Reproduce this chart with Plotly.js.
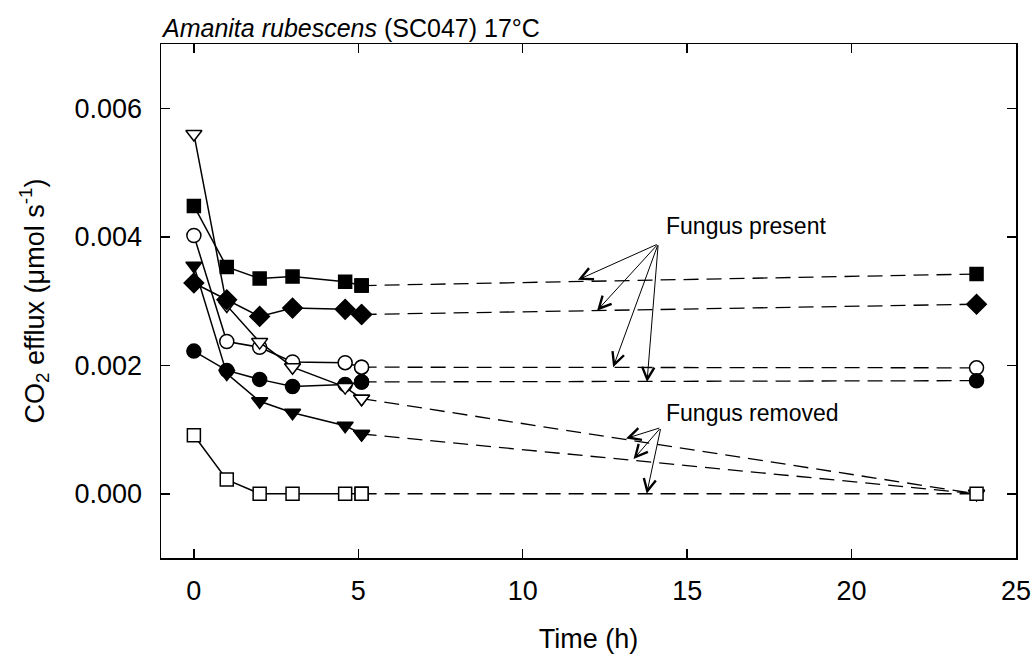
<!DOCTYPE html>
<html>
<head>
<meta charset="utf-8">
<script src="https://cdn.plot.ly/plotly-3.0.1.min.js"></script>
<style>html,body{margin:0;padding:0;background:#fff;}#chart{width:1032px;height:656px;}</style>
</head>
<body>
<div id="chart"></div>
<script>
// Time points (h)
var times = [0, 1, 2, 3, 4.6, 5.1, 23.8];
// CO2 efflux (umol s-1) per replicate
var openCircle   = [0.00402, 0.00237, 0.00228, 0.00205, 0.00204, 0.00197, 0.00196];
var filledTri    = [0.00355, 0.00187, 0.00144, 0.00126, 0.00106, 0.00093, 0.0];
var filledCircle = [0.00222, 0.00192, 0.00178, 0.00167, 0.00170, 0.00174, 0.00176];
var openTri      = [0.00560, 0.00293, 0.00236, 0.00197, 0.00166, 0.00148, 0.0];
var filledDiam   = [0.00328, 0.00302, 0.00276, 0.00289, 0.00287, 0.00279, 0.00295];
var filledSquare = [0.00448, 0.00353, 0.00335, 0.00338, 0.00330, 0.00324, 0.00342];
var openSquare   = [0.00091, 0.00022, 0.0, 0.0, 0.0, 0.0, 0.0];

var xTickVals = [0, 5, 10, 15, 20, 25];
var yTickVals = [0.000, 0.002, 0.004, 0.006];

var FONT = "Liberation Sans, Arial, sans-serif";

var seriesDefs = [
  {y: openCircle,   symbol: 'circle',        fill: '#ffffff', size: 14},
  {y: filledTri,    symbol: 'triangle-down', fill: '#000000', size: 14},
  {y: filledCircle, symbol: 'circle',        fill: '#000000', size: 14},
  {y: openTri,      symbol: 'triangle-down', fill: '#ffffff', size: 14},
  {y: filledDiam,   symbol: 'diamond',       fill: '#000000', size: 15},
  {y: filledSquare, symbol: 'square',        fill: '#000000', size: 13},
  {y: openSquare,   symbol: 'square',        fill: '#ffffff', size: 13}
];

var traces = [];
seriesDefs.forEach(function(s){
  var mk = {symbol: s.symbol, size: s.size, color: s.fill, line: {color: '#000', width: 1.5}};
  // dashed segment from last measured point in session to 24 h
  traces.push({
    x: times.slice(5), y: s.y.slice(5), type: 'scatter', mode: 'lines+markers',
    line: {color: '#000', width: 1.3, dash: '15px,8px'}, marker: mk,
    showlegend: false, hoverinfo: 'skip', cliponaxis: false
  });
  traces.push({
    x: times.slice(0, 6), y: s.y.slice(0, 6), type: 'scatter', mode: 'lines+markers',
    line: {color: '#000', width: 1.5}, marker: mk,
    showlegend: false, hoverinfo: 'skip', cliponaxis: false
  });
});

function arrow(x, y, ax, ay){
  return {x: x, y: y, ax: ax, ay: ay, xref: 'x', yref: 'y', axref: 'x', ayref: 'y',
    text: '', showarrow: true, arrowhead: 5, arrowsize: 2.4, arrowwidth: 1, arrowcolor: '#000', standoff: 0, startstandoff: 0};
}

var annotations = [
  {x: 16.78, y: 0.00416, xref: 'x', yref: 'y', text: 'Fungus present', showarrow: false,
   font: {family: FONT, size: 23, color: '#000'}, xanchor: 'center', yanchor: 'middle'},
  {x: 16.98, y: 0.00126, xref: 'x', yref: 'y', text: 'Fungus removed', showarrow: false,
   font: {family: FONT, size: 23, color: '#000'}, xanchor: 'center', yanchor: 'middle'},
  arrow(11.68, 0.00333, 14.12, 0.00389),
  arrow(12.26, 0.00285, 14.12, 0.00389),
  arrow(12.75, 0.00197, 14.12, 0.00389),
  arrow(13.78, 0.00174, 14.12, 0.00389),
  arrow(13.14, 0.00086, 14.2, 0.00103),
  arrow(13.37, 0.00054, 14.2, 0.00103),
  arrow(13.77, 0.0000, 14.2, 0.00103)
];

var layout = {
  width: 1032, height: 656,
  margin: {l: 161, r: 16, t: 44, b: 98},
  paper_bgcolor: '#fff', plot_bgcolor: '#fff',
  font: {family: FONT, color: '#000'},
  title: {
    text: '<i>Amanita rubescens</i> (SC047) 17°C',
    font: {family: FONT, size: 25, color: '#000'},
    xref: 'container', yref: 'container', x: 163/1032, xanchor: 'left',
    y: 1 - 28/656, yanchor: 'middle'
  },
  xaxis: {
    range: [-1, 25], tickvals: xTickVals, ticktext: xTickVals.map(String),
    ticks: 'inside', ticklen: 9, tickwidth: 1.5, tickcolor: '#000',
    showline: true, linecolor: '#000', linewidth: 1.5, mirror: 'ticks',
    showgrid: false, zeroline: false,
    tickfont: {family: FONT, size: 27, color: '#000'}, ticklabelstandoff: 8,
    title: {text: 'Time (h)', font: {family: FONT, size: 27, color: '#000'}, standoff: 24}
  },
  yaxis: {
    range: [-0.001, 0.007], tickvals: yTickVals, ticktext: yTickVals.map(function(v){return v.toFixed(3);}),
    ticks: 'inside', ticklen: 9, tickwidth: 1.5, tickcolor: '#000',
    showline: true, linecolor: '#000', linewidth: 1.5, mirror: 'ticks',
    showgrid: false, zeroline: false,
    tickfont: {family: FONT, size: 27, color: '#000'}, ticklabelstandoff: 12,
    title: {text: 'CO<sub>2</sub> efflux (μmol s<sup>-1</sup>)', font: {family: FONT, size: 27, color: '#000'}, standoff: 22}
  },
  annotations: annotations,
  showlegend: false
};

Plotly.newPlot('chart', traces, layout, {displayModeBar: false, staticPlot: true});
</script>
</body>
</html>
